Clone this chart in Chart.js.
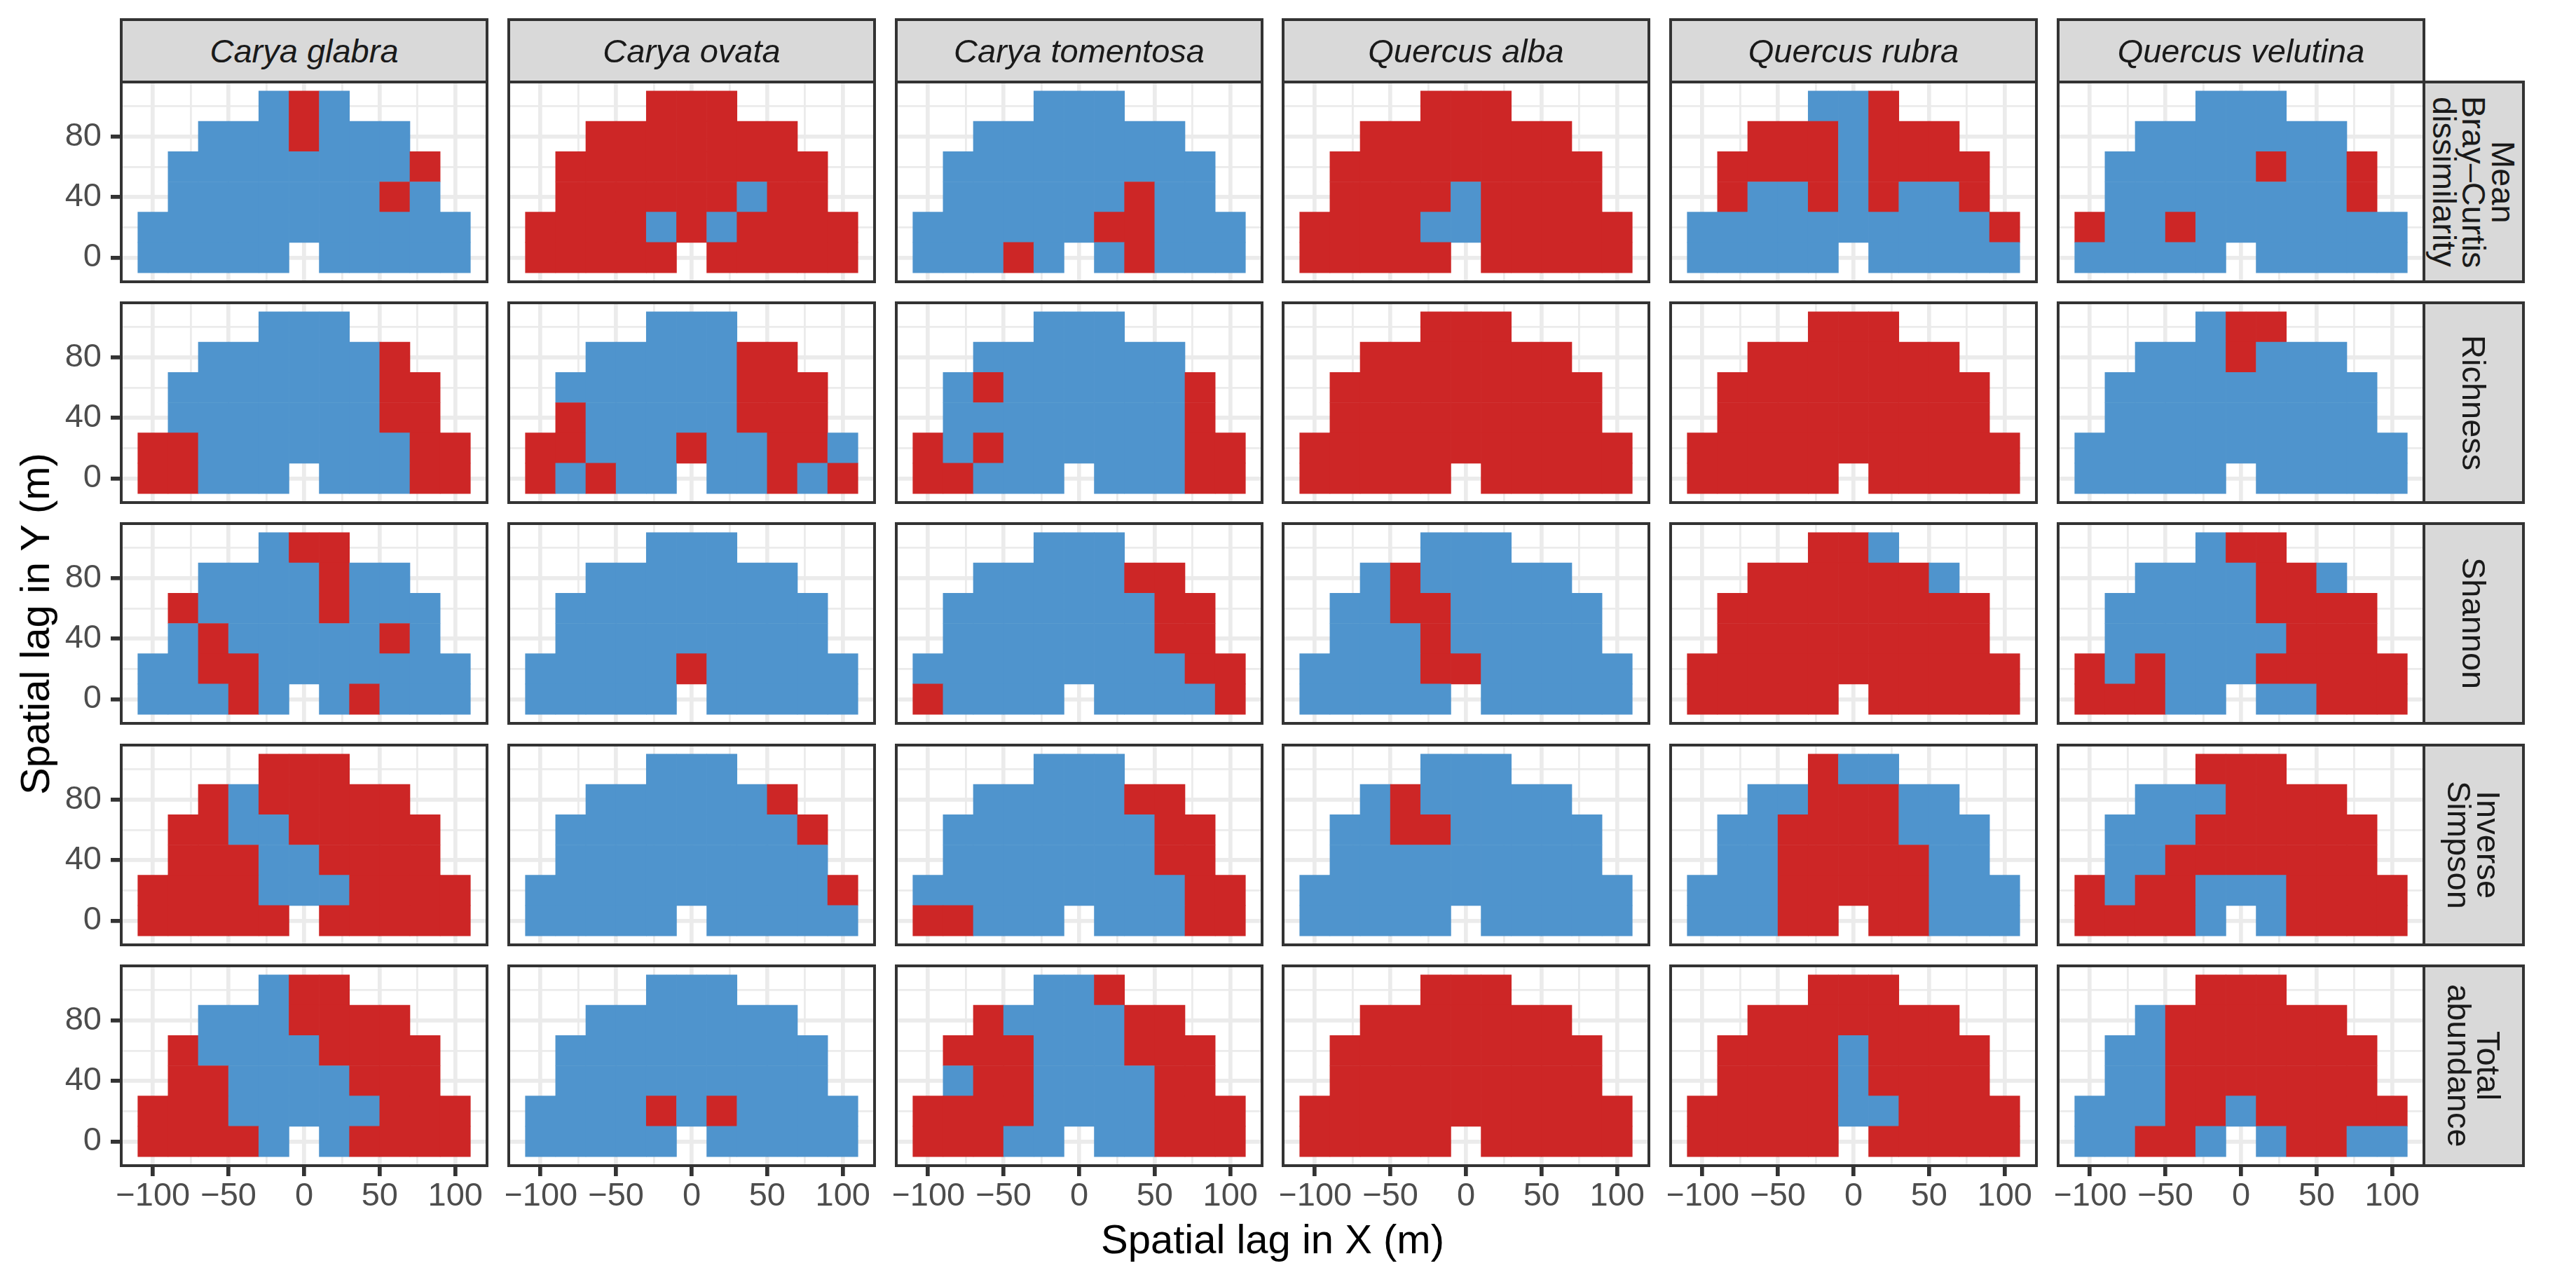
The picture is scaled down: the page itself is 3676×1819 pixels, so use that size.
<!DOCTYPE html>
<html>
<head>
<meta charset="utf-8">
<script src="https://cdn.jsdelivr.net/npm/chart.js@4.4.1/dist/chart.umd.min.js"></script>
<style>
  body { margin: 0; width: 3676px; height: 1819px; background: #fff; position: relative; overflow: hidden;
         font-family: "Liberation Sans", Arial, sans-serif; }
  canvas { position: absolute; }
  .strip { position: absolute; background: #d9d9d9; border: 4px solid #333; box-sizing: border-box;
           color: #1a1a1a; font-size: 47px; display: flex; align-items: center; justify-content: center; }
  .strip span { white-space: nowrap; text-align: center; }
  .top span { font-style: italic; line-height: 47px; }
  .side span { writing-mode: vertical-rl; line-height: 42px; }
  .title { position: absolute; font-size: 58px; color: #000; white-space: nowrap; line-height: 58px; }
</style>
</head>
<body>
<script>
// facet labels
const species = ['Carya glabra', 'Carya ovata', 'Carya tomentosa', 'Quercus alba', 'Quercus rubra', 'Quercus velutina'];
const metrics = [['Mean', 'Bray\u2013Curtis', 'dissimilarity'], ['Richness'], ['Shannon'], ['Inverse', 'Simpson'], ['Total', 'abundance']];

// spatial lag grid: one row of lags in X for each lag in Y (top row first)
const lagY = [100, 80, 60, 40, 20, 0];
const lagX = [
  [-20, 0, 20],
  [-60, -40, -20, 0, 20, 40, 60],
  [-80, -60, -40, -20, 0, 20, 40, 60, 80],
  [-80, -60, -40, -20, 0, 20, 40, 60, 80],
  [-100, -80, -60, -40, -20, 0, 20, 40, 60, 80, 100],
  [-100, -80, -60, -40, -20, 20, 40, 60, 80, 100]
];

// cell class per species, one string per lag row (R = red, B = blue)
const meanBrayCurtis = [
  ['BRB', 'BBBRBBB', 'BBBBBBBBR', 'BBBBBBBRB', 'BBBBBBBBBBB', 'BBBBBBBBBB'],
  ['RRR', 'RRRRRRR', 'RRRRRRRRR', 'RRRRRRBRR', 'RRRRBRBRRRR', 'RRRRRRRRRR'],
  ['BBB', 'BBBBBBB', 'BBBBBBBBB', 'BBBBBBRBB', 'BBBBBBRRBBB', 'BBBRBBRBBB'],
  ['RRR', 'RRRRRRR', 'RRRRRRRRR', 'RRRRBRRRR', 'RRRRBBRRRRR', 'RRRRRRRRRR'],
  ['BBR', 'RRRBRRR', 'RRRRBRRRR', 'RBBRBRBBR', 'BBBBBBBBBBR', 'BBBBBBBBBB'],
  ['BBB', 'BBBBBBB', 'BBBBBRBBR', 'BBBBBBBBR', 'RBBRBBBBBBB', 'BBBBBBBBBB']
];
const richness = [
  ['BBB', 'BBBBBBR', 'BBBBBBBRR', 'BBBBBBBRR', 'RRBBBBBBBRR', 'RRBBBBBBRR'],
  ['BBB', 'BBBBBRR', 'BBBBBBRRR', 'RBBBBBRRR', 'RRBBBRBBRRB', 'RBRBBBBRBR'],
  ['BBB', 'BBBBBBB', 'BRBBBBBBR', 'BBBBBBBBR', 'RBRBBBBBBRR', 'RRBBBBBBRR'],
  ['RRR', 'RRRRRRR', 'RRRRRRRRR', 'RRRRRRRRR', 'RRRRRRRRRRR', 'RRRRRRRRRR'],
  ['RRR', 'RRRRRRR', 'RRRRRRRRR', 'RRRRRRRRR', 'RRRRRRRRRRR', 'RRRRRRRRRR'],
  ['BRR', 'BBBRBBB', 'BBBBBBBBB', 'BBBBBBBBB', 'BBBBBBBBBBB', 'BBBBBBBBBB']
];
const shannon = [
  ['BRR', 'BBBBRBB', 'RBBBBRBBB', 'BRBBBBBRB', 'BBRRBBBBBBB', 'BBBRBBRBBB'],
  ['BBB', 'BBBBBBB', 'BBBBBBBBB', 'BBBBBBBBB', 'BBBBBRBBBBB', 'BBBBBBBBBB'],
  ['BBB', 'BBBBBRR', 'BBBBBBBRR', 'BBBBBBBRR', 'BBBBBBBBBRR', 'RBBBBBBBBR'],
  ['BBB', 'BRBBBBB', 'BBRRBBBBB', 'BBBRBBBBB', 'BBBBRRBBBBB', 'BBBBBBBBBB'],
  ['RRB', 'RRRRRRB', 'RRRRRRRRR', 'RRRRRRRRR', 'RRRRRRRRRRR', 'RRRRRRRRRR'],
  ['BRR', 'BBBBRRB', 'BBBBBRRRR', 'BBBBBBRRR', 'RBRBBBRRRRR', 'RRRBBBBRRR']
];
const inverseSimpson = [
  ['RRR', 'RBRRRRR', 'RRBBRRRRR', 'RRRBBRRRR', 'RRRRBBBRRRR', 'RRRRRRRRRR'],
  ['BBB', 'BBBBBBR', 'BBBBBBBBR', 'BBBBBBBBB', 'BBBBBBBBBBR', 'BBBBBBBBBB'],
  ['BBB', 'BBBBBRR', 'BBBBBBBRR', 'BBBBBBBRR', 'BBBBBBBBBRR', 'RRBBBBBBRR'],
  ['BBB', 'BRBBBBB', 'BBRRBBBBB', 'BBBBBBBBB', 'BBBBBBBBBBB', 'BBBBBBBBBB'],
  ['RBB', 'BBRRRBB', 'BBRRRRBBB', 'BBRRRRRBB', 'BBBRRRRRBBB', 'BBBRRRRBBB'],
  ['RRR', 'BBBRRRR', 'BBBRRRRRR', 'BBRRRRRRR', 'RBRRBBBRRRR', 'RRRRBBRRRR']
];
const totalAbundance = [
  ['BRR', 'BBBRRRR', 'RBBBBRRRR', 'RRBBBBRRR', 'RRRBBBBBRRR', 'RRRRBBRRRR'],
  ['BBB', 'BBBBBBB', 'BBBBBBBBB', 'BBBBBBBBB', 'BBBBRBRBBBB', 'BBBBBBBBBB'],
  ['BBR', 'RBBBBRR', 'RRRBBBRRR', 'BRRBBBBRR', 'RRRRBBBBRRR', 'RRRBBBBRRR'],
  ['RRR', 'RRRRRRR', 'RRRRRRRRR', 'RRRRRRRRR', 'RRRRRRRRRRR', 'RRRRRRRRRR'],
  ['RRR', 'RRRRRRR', 'RRRRBRRRR', 'RRRRBRRRR', 'RRRRRBBRRRR', 'RRRRRRRRRR'],
  ['RRR', 'BRRRRRR', 'BBRRRRRRR', 'BBRRRRRRR', 'BBBRRBRRRRR', 'BBRRBBRRBB']
];
const panelRows = [meanBrayCurtis, richness, shannon, inverseSimpson, totalAbundance];

// axis breaks
const xMajor = [-100, -50, 0, 50, 100];
const xMinor = [-75, -25, 25, 75];
const yMajor = [0, 40, 80];
const yMinor = [20, 60, 100];

const colours = { R: '#CD2626', B: '#4F94CD' };
const FONT = '"Liberation Sans", Arial, sans-serif';

// layout (px)
const PW = 522, PH = 285;
const AX = 100, AXH = 72, M = 4;
const colLeft = c => Math.round(173 + c * 552.8);
const rowTop = r => Math.round(117 + r * 315.2);

const fmt = v => (v < 0 ? '\u2212' + Math.abs(v) : String(v));

const panelBorder = {
  id: 'panelBorder',
  afterDraw(chart) {
    const a = chart.chartArea, ctx = chart.ctx;
    ctx.save();
    ctx.strokeStyle = '#333333';
    ctx.lineWidth = 4;
    ctx.strokeRect(a.left, a.top, a.right - a.left, a.bottom - a.top);
    ctx.restore();
  }
};

// keep every panel the same size: no extra room for the outer tick labels
function noLabelPadding(s) {
  s.paddingTop = 0; s.paddingBottom = 0; s.paddingLeft = 0; s.paddingRight = 0;
}

function makePanel(r, c) {
  const rows = panelRows[r][c];
  const data = [], bg = [];
  lagY.forEach((y, i) => {
    lagX[i].forEach((x, j) => {
      data.push({ x: x, y: [y - 10, y + 10] });
      bg.push(colours[rows[i][j]]);
    });
  });

  const left = c === 0, bottom = r === 4;
  const padL = left ? AX : M, padB = bottom ? AXH : M;
  const canvas = document.createElement('canvas');
  canvas.width = PW + padL + M;
  canvas.height = PH + M + padB;
  canvas.style.left = (colLeft(c) - padL) + 'px';
  canvas.style.top = (rowTop(r) - M) + 'px';
  document.body.appendChild(canvas);

  const tickFont = { family: FONT, size: 47, lineHeight: 1 };
  new Chart(canvas.getContext('2d'), {
    type: 'bar',
    data: {
      datasets: [{
        data: data,
        backgroundColor: bg,
        borderWidth: 0,
        grouped: false,
        barPercentage: 1,
        categoryPercentage: 1
      }]
    },
    options: {
      responsive: false,
      animation: false,
      devicePixelRatio: 1,
      events: [],
      layout: { padding: { left: left ? 0 : M, right: M, top: M, bottom: bottom ? 0 : M } },
      plugins: { legend: { display: false }, tooltip: { enabled: false } },
      scales: {
        x: {
          type: 'linear', min: -121, max: 121, offset: false,
          afterBuildTicks: s => { s.ticks = xMajor.concat(xMinor).sort((a, b) => a - b).map(v => ({ value: v })); },
          afterFit: s => { s.height = bottom ? AXH : 0; noLabelPadding(s); },
          border: { display: false },
          grid: {
            offset: false,
            color: '#EBEBEB',
            lineWidth: ctx => (ctx.tick && xMajor.includes(ctx.tick.value) ? 5.7 : 2.8),
            drawTicks: bottom, tickLength: 15, tickWidth: 5.7,
            tickColor: ctx => (ctx.tick && xMajor.includes(ctx.tick.value) ? '#333333' : 'rgba(0,0,0,0)')
          },
          ticks: {
            display: bottom, autoSkip: false, maxRotation: 0, padding: 6,
            color: '#4D4D4D', font: tickFont,
            callback: v => (xMajor.includes(v) ? fmt(v) : '')
          }
        },
        y: {
          type: 'linear', min: -16, max: 116,
          afterBuildTicks: s => { s.ticks = yMajor.concat(yMinor).sort((a, b) => a - b).map(v => ({ value: v })); },
          afterFit: s => { s.width = left ? AX : 0; noLabelPadding(s); },
          border: { display: false },
          grid: {
            color: '#EBEBEB',
            lineWidth: ctx => (ctx.tick && yMajor.includes(ctx.tick.value) ? 5.7 : 2.8),
            drawTicks: left, tickLength: 15, tickWidth: 5.7,
            tickColor: ctx => (ctx.tick && yMajor.includes(ctx.tick.value) ? '#333333' : 'rgba(0,0,0,0)')
          },
          ticks: {
            display: left, autoSkip: false, padding: 13,
            color: '#4D4D4D', font: tickFont,
            callback: v => (yMajor.includes(v) ? fmt(v) : '')
          }
        }
      }
    },
    plugins: [panelBorder]
  });
}

for (let r = 0; r < panelRows.length; r++) {
  for (let c = 0; c < species.length; c++) makePanel(r, c);
}

// facet strips
species.forEach((name, c) => {
  const d = document.createElement('div');
  d.className = 'strip top';
  d.style.left = (colLeft(c) - 2) + 'px';
  d.style.top = '26px';
  d.style.width = (PW + 4) + 'px';
  d.style.height = (rowTop(0) - 26 + 2) + 'px';
  d.innerHTML = '<span>' + name + '</span>';
  document.body.appendChild(d);
});
metrics.forEach((lines, r) => {
  const d = document.createElement('div');
  d.className = 'strip side';
  d.style.left = (colLeft(5) + PW - 2) + 'px';
  d.style.top = (rowTop(r) - 2) + 'px';
  d.style.width = '146px';
  d.style.height = (PH + 4) + 'px';
  d.innerHTML = '<span>' + lines.join('<br>') + '</span>';
  document.body.appendChild(d);
});

// axis titles
const xt = document.createElement('div');
xt.className = 'title';
xt.textContent = 'Spatial lag in X (m)';
document.body.appendChild(xt);
const panelsMidX = (colLeft(0) + colLeft(5) + PW) / 2;
xt.style.left = (panelsMidX - xt.offsetWidth / 2) + 'px';
xt.style.top = (1768 - 29) + 'px';

const yt = document.createElement('div');
yt.className = 'title';
yt.textContent = 'Spatial lag in Y (m)';
document.body.appendChild(yt);
const panelsMidY = (rowTop(0) + rowTop(4) + PH) / 2;
yt.style.left = (50 - yt.offsetWidth / 2) + 'px';
yt.style.top = (panelsMidY - 29) + 'px';
yt.style.transform = 'rotate(-90deg)';
</script>
</body>
</html>
